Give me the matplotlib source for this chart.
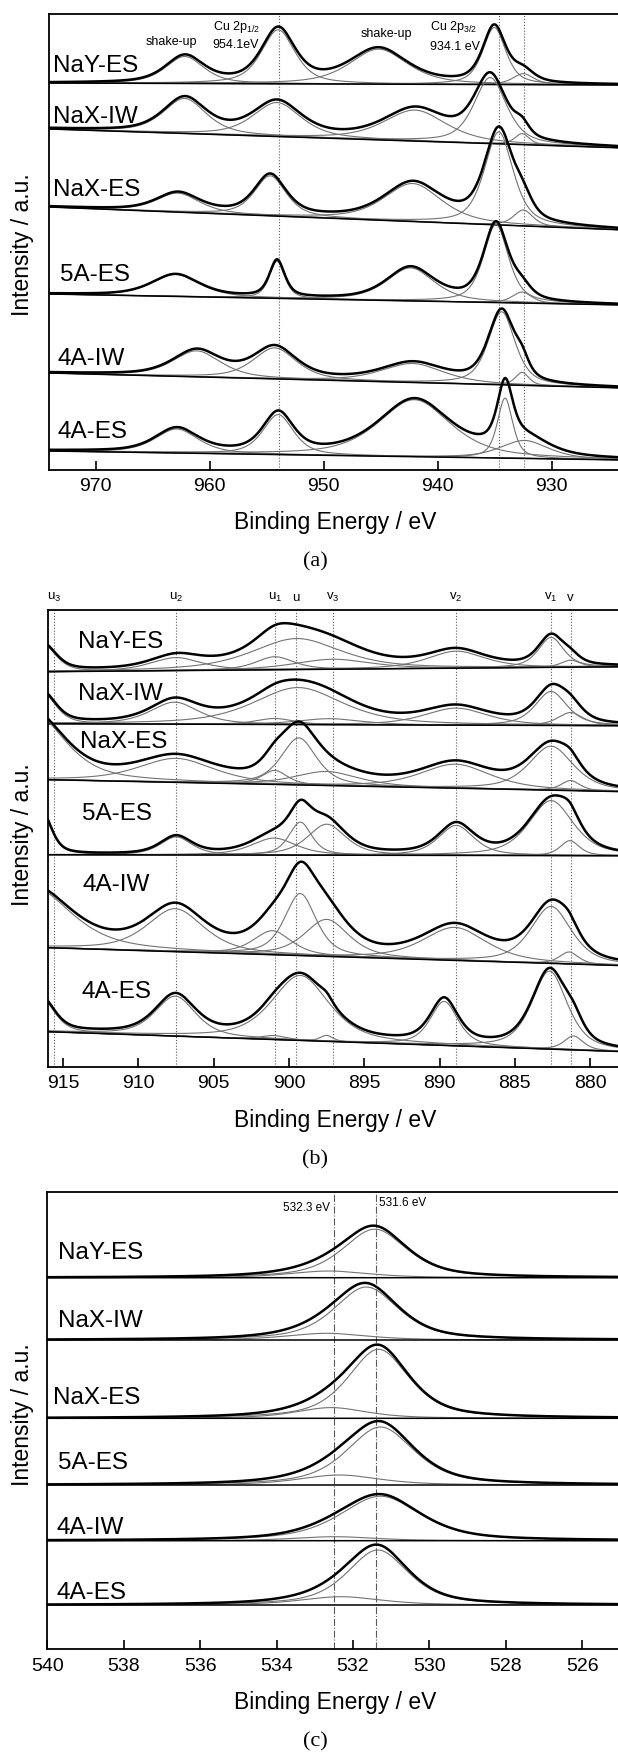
import numpy as np
import matplotlib.pyplot as plt

plt.rcParams['font.family'] = ['Liberation Sans', 'DejaVu Sans']
plt.rcParams['mathtext.fontset'] = 'custom'
plt.rcParams['mathtext.rm'] = 'Liberation Sans'

samples = ['NaY-ES', 'NaX-IW', 'NaX-ES', '5A-ES', '4A-IW', '4A-ES']

# ---- Cu 2p: shake-up, 2p1/2, shake-up, 2p3/2, Cu(I) ----
cu_center = [[962.2, 954.0, 945.2, 935.05, 932.5],
             [962.2, 954.1, 942.0, 935.4, 932.6],
             [962.8, 954.7, 942.2, 934.65, 932.5],
             [963.0, 954.1, 942.4, 934.9, 932.6],
             [961.15, 954.3, 942.2, 934.4, 932.6],
             [962.9, 954.0, 942.05, 934.1, 932.4]]
cu_height = [[27, 54, 35, 57, 11],
             [35, 34, 31, 66, 11],
             [19, 40, 38, 93, 16],
             [22, 37, 33, 78, 11],
             [26, 31, 19, 73, 13],
             [24, 40, 57, 60, 18]]
cu_fwhm = [[4.0, 3.5, 6.0, 2.4, 2.2],
           [4.5, 5.0, 6.5, 3.4, 1.5],
           [4.5, 3.3, 6.0, 3.0, 2.0],
           [5.0, 1.6, 5.0, 2.6, 2.0],
           [5.0, 4.5, 6.5, 2.8, 1.4],
           [4.5, 3.2, 7.5, 1.6, 5.0]]
# background (high BE end, low BE end)
cu_bg = [(387, 385), (341, 322), (263, 240), (176, 165), (97, 82), (19, 10)]
cu_marks = [953.9, 934.6, 932.4]
cu_ticks = [970, 960, 950, 940, 930]

# ---- Ce 3d: u3, u2, u1, u, v3, v2, v1, v ----
ce_center = [[916.3, 907.5, 900.95, 899.5, 897.1, 888.9, 882.6, 881.3],
             [916.3, 907.6, 900.95, 899.4, 897.3, 888.9, 882.6, 881.3],
             [917.0, 907.5, 900.95, 899.35, 897.5, 888.95, 882.6, 881.3],
             [916.4, 907.5, 901.0, 899.25, 897.5, 888.9, 882.6, 881.35],
             [917.0, 907.55, 901.1, 899.25, 897.5, 889.0, 882.6, 881.4],
             [916.4, 907.55, 901.0, 899.25, 897.5, 889.7, 882.7, 881.1]]
ce_height = [[27, 13, 13, 31, 10, 17, 30, 7],
             [30, 22, 6, 37, 6, 17, 34, 13],
             [67, 24, 14, 47, 14, 24, 44, 10],
             [43, 18, 17, 33, 31, 30, 55, 15],
             [60, 43, 24, 62, 37, 33, 57, 12],
             [33, 40, 4, 65, 6, 44, 78, 14]]
ce_fwhm = [[2.0, 4.0, 3.0, 7.0, 6.0, 4.5, 2.0, 1.5],
           [2.0, 3.8, 3.0, 7.0, 5.0, 5.0, 2.5, 2.0],
           [5.0, 6.0, 2.0, 2.8, 5.0, 5.5, 3.5, 1.5],
           [1.5, 2.5, 3.5, 1.8, 3.0, 2.8, 3.5, 1.5],
           [6.0, 4.5, 3.0, 2.5, 3.5, 5.0, 3.2, 1.5],
           [2.0, 3.2, 2.0, 4.5, 1.0, 2.2, 2.8, 1.5]]
ce_bg = [(395, 400), (343, 341), (287, 275), (212, 211), (119, 101), (35, 15)]
ce_marks = [915.6, 907.5, 900.95, 899.55, 897.1, 888.9, 882.6, 881.3]
ce_names = ['u$_\\mathregular{3}$', 'u$_\\mathregular{2}$', 'u$_\\mathregular{1}$', 'u',
            'v$_\\mathregular{3}$', 'v$_\\mathregular{2}$', 'v$_\\mathregular{1}$', 'v']
ce_ticks = [915, 910, 905, 900, 895, 890, 885, 880]

# ---- O 1s: lattice O, surface O ----
o_center = [[531.43, 532.63], [531.65, 532.68], [531.33, 532.57],
            [531.28, 532.36], [531.28, 532.47], [531.35, 532.31]]
o_height = [[48.5, 6.7], [53, 6.7], [69, 10.7], [58, 10], [44.5, 4], [55, 8.3]]
o_fwhm = [[2.0, 2.5], [2.0, 2.5], [1.9, 2.2], [2.1, 2.5], [2.5, 2.5], [1.9, 2.5]]
o_bg = [(371.6, 371.6), (309.3, 309.3), (231, 231), (164.3, 164.3), (108.6, 108.6), (44.3, 44.3)]
o_marks = [532.5, 531.4]
o_ticks = [540, 538, 536, 534, 532, 530, 528, 526]


def peak(e, c, h, w, eta=0.6):
    x = (e - c) / (w / 2.0)
    return h * (eta / (1 + x ** 2) + (1 - eta) * np.exp(-np.log(2) * x ** 2))


def draw_spectra(ax, elim, centers, heights, widths, bgs):
    e = np.linspace(elim[1], elim[0], 1500)
    for cs, hs, ws, (b_hi, b_lo) in zip(centers, heights, widths, bgs):
        bg = np.interp(e, [elim[1], elim[0]], [b_lo, b_hi])
        comps = [peak(e, c, h, w) for c, h, w in zip(cs, hs, ws)]
        for p in comps:
            ax.plot(e, bg + p, color='0.45', lw=0.8)
        ax.plot(e, bg, color='k', lw=1.1)
        ax.plot(e, bg + np.sum(comps, axis=0), color='k', lw=1.8)


def setup(ax, elim, height, ticks):
    ax.set_xlim(*elim)
    ax.set_ylim(0, height)
    ax.set_yticks([])
    ax.set_xticks(ticks)
    ax.spines['right'].set_visible(False)
    for s in ['left', 'top', 'bottom']:
        ax.spines[s].set_linewidth(1.3)
    ax.tick_params(axis='x', direction='in', length=6.5, width=1.2,
                   labelsize=14, pad=6)


W, H = 618, 1753
fig = plt.figure(figsize=(W / 100, H / 100), dpi=100)


def add_axes(left, top, bottom, right=625):
    return fig.add_axes([left / W, 1 - bottom / H, (right - left) / W, (bottom - top) / H])


# (a) Cu 2p
ax1 = add_axes(49.3, 14, 470)
lim1 = (974.08, 923.58)
for m in cu_marks:
    ax1.axvline(m, color='0.35', ls=':', lw=0.8)
draw_spectra(ax1, lim1, cu_center, cu_height, cu_fwhm, cu_bg)
setup(ax1, lim1, 456, cu_ticks)
for name, (x, y) in zip(samples, [(973.75, 404), (973.75, 353), (973.75, 280),
                                  (973.14, 195), (973.4, 111), (973.4, 38)]):
    ax1.text(x, y, name, fontsize=17.5, va='center', ha='left')
ax1.text(963.4, 428, 'shake-up', fontsize=9, ha='center', va='center')
ax1.text(959.75, 443, 'Cu 2p$_\\mathregular{1/2}$', fontsize=9, ha='left', va='center')
ax1.text(959.75, 425, '954.1eV', fontsize=9, ha='left', va='center')
ax1.text(944.55, 436, 'shake-up', fontsize=9, ha='center', va='center')
ax1.text(940.7, 443, 'Cu 2p$_\\mathregular{3/2}$', fontsize=9, ha='left', va='center')
ax1.text(940.7, 423, '934.1 eV', fontsize=9, ha='left', va='center')

# (b) Ce 3d
ax2 = add_axes(48.1, 610, 1066.7)
lim2 = (916.0, 877.69)
for m, lab in zip(ce_marks, ce_names):
    ax2.axvline(m, color='0.35', ls=':', lw=0.8)
    ax2.text(m, 469, lab, fontsize=9.5, ha='center', va='center', clip_on=False)
draw_spectra(ax2, lim2, ce_center, ce_height, ce_fwhm, ce_bg)
setup(ax2, lim2, 456.7, ce_ticks)
for name, (x, y) in zip(samples, [(914.0, 425), (914.0, 373), (913.88, 325),
                                  (913.77, 253), (913.7, 182), (913.75, 75)]):
    ax2.text(x, y, name, fontsize=17.5, va='center', ha='left')

# (c) O 1s
ax3 = add_axes(47.3, 1191.7, 1649.3)
lim3 = (540.0, 524.88)
for m in o_marks:
    ax3.axvline(m, color='0.35', ls='-.', lw=0.8)
draw_spectra(ax3, lim3, o_center, o_height, o_fwhm, o_bg)
setup(ax3, lim3, 457.6, o_ticks)
for name, (x, y) in zip(samples, [(539.71, 396), (539.73, 328), (539.85, 251),
                                  (539.71, 186), (539.76, 121), (539.76, 56)]):
    ax3.text(x, y, name, fontsize=17.5, va='center', ha='left')
ax3.text(532.6, 441, '532.3 eV', fontsize=8.5, ha='right', va='center')
ax3.text(531.32, 446, '531.6 eV', fontsize=8.5, ha='left', va='center')

# axis titles and panel captions
for yc in [245, 835, 1415]:
    fig.text(23 / W, 1 - yc / H, 'Intensity / a.u.', rotation=90, fontsize=16.5,
             ha='center', va='center')
for yc in [523, 1120, 1703]:
    fig.text(335 / W, 1 - yc / H, 'Binding Energy / eV', fontsize=16.5,
             ha='center', va='center')
for yc, cap in zip([562, 1160, 1742], ['(a)', '(b)', '(c)']):
    fig.text(315 / W, 1 - yc / H, cap, fontsize=16, family='Liberation Serif',
             ha='center', va='center')

fig.savefig('out.png', dpi=100)
